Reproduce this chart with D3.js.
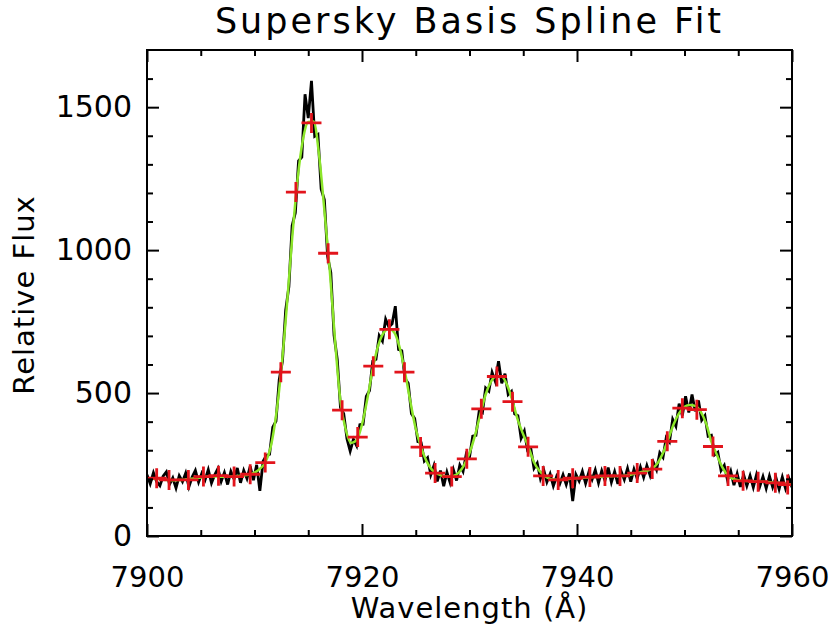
<!DOCTYPE html>
<meta charset="utf-8">
<style>
body { margin: 0; background: #fff; }
text { font-family: "DejaVu Sans", sans-serif; fill: #000; }
.frame { fill: none; stroke: #000; stroke-width: 2; }
.axis path { display: none; }
.axis line { stroke: #000; stroke-width: 2; }
</style>
<body>
<script src="https://cdn.jsdelivr.net/npm/d3@7"></script>
<script>

// observed sky spectrum, sampled every 0.3 A from 7900 A
var waveStart = 7900.0, waveStep = 0.3;
var flux = [214,183,221,190,176,209,224,181,203,168,
  211,190,220,172,206,229,188,219,196,232,
  185,214,236,191,222,180,226,199,238,186,
  229,201,244,195,249,158,262,281,286,381,
  402,547,611,790,872,1085,1131,1312,1325,1545,
  1462,1592,1398,1405,1214,1176,978,921,702,618,
  449,428,340,297,338,316,389,391,488,509,
  612,618,701,682,758,731,742,804,652,648,
  551,534,428,411,330,327,262,274,214,247,
  191,229,174,223,186,232,194,248,226,287,
  276,349,352,437,431,518,507,572,541,611,
  534,568,495,506,427,421,342,367,300,306,
  237,255,201,232,189,217,175,208,183,214,
  180,219,122,215,192,226,184,223,197,231,
  186,228,194,239,188,225,182,227,197,236,
  190,233,201,241,205,246,212,258,232,291,
  275,344,329,408,384,463,421,489,432,495,
  436,474,405,421,349,352,284,293,229,247,
  196,227,178,218,172,214,175,211,170,214,
  173,208,167,210,171,205,164,206,166,203,
  170];

// b-spline fit, every 0.5 A
var fitStart = 7900.0, fitStep = 0.5;
var fitFlux = [200,200,199,197,196,195,196,197,199,202,
  205,207,208,208,207,207,208,210,212,215,
  222,235,257,310,420,585,800,1040,1245,1385,
  1448,1450,1335,1140,930,680,470,370,325,335,
  390,480,585,665,710,725,712,660,573,470,
  375,310,262,232,218,210,207,210,222,248,
  290,350,425,495,540,560,558,528,472,405,
  355,310,258,228,210,200,197,196,198,201,
  203,204,205,206,207,208,209,210,210,211,
  214,219,224,228,236,255,290,340,392,430,
  452,458,455,435,395,330,285,242,214,200,
  195,193,192,191,190,189,188,186,184,182,
  180];

// breakpoints (red crosses)
var knotWave = [7900.9,7902.05,7903.85,7905.25,7906.65,7908.1,7909.6,7911.0,
  7912.45,7913.85,7915.3,7916.85,7918.15,7919.6,7921.05,7922.55,7923.95,7925.45,
  7926.8,7928.35,7929.75,7931.1,7932.55,7934.0,7935.45,7936.85,
  7938.25,7939.6,7941.2,7942.6,7944.0,7945.6,7947.0,7948.4,7949.8,7951.15,
  7952.65,7954.05,7955.45,7956.85,7958.45,7959.6];
var knotFlux = [202,196,196,208,211,208,216,257,
  573,1203,1445,989,440,346,594,723,573,311,
  220,208,270,445,558,470,312,210,
  196,202,206,210,210,220,234,331,447,442,
  313,210,193,190,186,180];

var xTicks = [7900, 7920, 7940, 7960];
var yTicks = [0, 500, 1000, 1500];

var margin = {top: 50, right: 38, bottom: 99, left: 147},
    width = 830 - margin.left - margin.right,
    height = 635 - margin.top - margin.bottom;

var x = d3.scaleLinear().domain([7900, 7960]).range([0, width]);
var y = d3.scaleLinear().domain([0, 1700]).range([height, 0]);

var svg = d3.select("body").append("svg")
    .attr("width", 830)
    .attr("height", 635);

svg.append("text")
    .attr("x", margin.left + width / 2)
    .attr("y", 33)
    .attr("text-anchor", "middle")
    .style("font-size", "35px")
    .style("letter-spacing", "3px")
    .text("Supersky Basis Spline Fit");

var g = svg.append("g")
    .attr("transform", "translate(" + margin.left + "," + margin.top + ")");

svg.append("defs").append("clipPath").attr("id", "clip")
  .append("rect").attr("width", width).attr("height", height);

var plot = g.append("g").attr("clip-path", "url(#clip)");

var dataPts = flux.map(function(v, i) { return [waveStart + i * waveStep, v]; });
var fitPts = fitFlux.map(function(v, i) { return [fitStart + i * fitStep, v]; });

plot.append("path")
    .datum(dataPts)
    .attr("fill", "none")
    .attr("stroke", "#000")
    .attr("stroke-width", 2.8)
    .attr("stroke-linejoin", "miter")
    .attr("d", d3.line()
      .x(function(d) { return x(d[0]); })
      .y(function(d) { return y(d[1]); }));

plot.append("path")
    .datum(fitPts)
    .attr("fill", "none")
    .attr("stroke", "#8ce62a")
    .attr("stroke-width", 2.5)
    .attr("d", d3.line().curve(d3.curveMonotoneX)
      .x(function(d) { return x(d[0]); })
      .y(function(d) { return y(d[1]); }));

plot.selectAll(".knot")
    .data(knotWave)
  .enter().append("path")
    .attr("class", "knot")
    .attr("d", "M-10,0H10M0,-10V10")
    .attr("stroke", "#e2141c")
    .attr("stroke-width", 2.8)
    .attr("transform", function(d, i) { return "translate(" + x(d) + "," + y(knotFlux[i]) + ")"; });

// box axes, ticks pointing inward
var xMinor = d3.range(7905, 7960, 5).filter(function(v) { return v % 20 !== 0; });
var yMinor = d3.range(100, 1700, 100).filter(function(v) { return v % 500 !== 0; });

function addAxis(axis, tr) {
  var a = g.append("g").attr("class", "axis");
  if (tr) a.attr("transform", tr);
  a.call(axis);
  a.attr("font-family", null).attr("font-size", null);
  return a;
}

addAxis(d3.axisBottom(x).tickValues(xTicks).tickSize(-12).tickPadding(30)
  .tickFormat(d3.format("d")), "translate(0," + height + ")")
  .selectAll("text").style("font-size", "29px");
addAxis(d3.axisBottom(x).tickValues(xMinor).tickSize(-6).tickFormat(""), "translate(0," + height + ")");
addAxis(d3.axisTop(x).tickValues(xTicks).tickSize(-12).tickFormat(""));
addAxis(d3.axisTop(x).tickValues(xMinor).tickSize(-6).tickFormat(""));

addAxis(d3.axisLeft(y).tickValues(yTicks).tickSize(-12).tickPadding(15)
  .tickFormat(d3.format("d")))
  .selectAll("text").style("font-size", "30px");
addAxis(d3.axisLeft(y).tickValues(yMinor).tickSize(-6).tickFormat(""));
addAxis(d3.axisRight(y).tickValues(yTicks).tickSize(-12).tickFormat(""), "translate(" + width + ",0)");
addAxis(d3.axisRight(y).tickValues(yMinor).tickSize(-6).tickFormat(""), "translate(" + width + ",0)");

g.append("rect")
    .attr("class", "frame")
    .attr("width", width)
    .attr("height", height);

svg.append("text")
    .attr("x", margin.left + width / 2)
    .attr("y", 618)
    .attr("text-anchor", "middle")
    .style("font-size", "29px")
    .style("letter-spacing", "1px")
    .text("Wavelength (Å)");

svg.append("text")
    .attr("transform", "translate(34," + (margin.top + height / 2 + 2) + ") rotate(-90)")
    .attr("text-anchor", "middle")
    .style("font-size", "29px")
    .style("letter-spacing", "1px")
    .text("Relative Flux");

</script>
